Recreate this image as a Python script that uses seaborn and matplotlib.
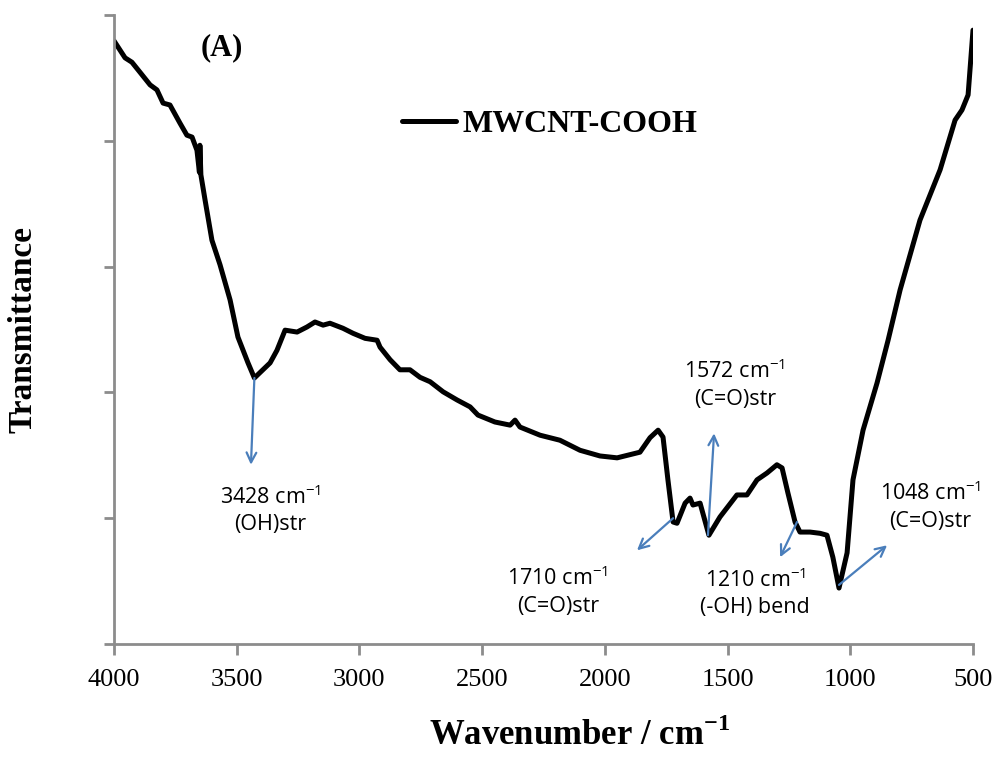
import numpy as np
import pandas as pd
import matplotlib
matplotlib.use("Agg")
import matplotlib.pyplot as plt
import seaborn as sns

# FTIR spectrum of MWCNT-COOH
wavenumber = [4000, 3955, 3927, 3894, 3853, 3825, 3800, 3772, 3731, 3703,
              3682, 3662, 3652, 3650, 3646, 3629, 3601, 3568, 3527, 3495,
              3454, 3428, 3364, 3336, 3303, 3254, 3214, 3181, 3148, 3120,
              3067, 3026, 2977, 2928, 2916, 2875, 2835, 2794, 2753, 2712,
              2659, 2602, 2549, 2517, 2448, 2386, 2366, 2346, 2264, 2183,
              2101, 2020, 1950, 1857, 1816, 1783, 1763, 1743, 1722, 1706,
              1673, 1653, 1641, 1612, 1576, 1531, 1462, 1421, 1380, 1339,
              1299, 1278, 1254, 1225, 1205, 1164, 1123, 1095, 1071, 1046,
              1013, 989, 948, 891, 846, 797, 716, 634, 573, 545, 520, 500]
transmittance = [95.9, 93.2, 92.5, 90.9, 88.9, 88.1, 86.0, 85.7, 82.8, 80.9,
                 80.6, 78.5, 75.0, 79.3, 74.6, 70.6, 64.2, 60.3, 54.7, 48.8,
                 44.7, 42.3, 44.7, 46.7, 49.9, 49.6, 50.4, 51.2, 50.7, 51.0,
                 50.2, 49.4, 48.6, 48.3, 47.2, 45.2, 43.6, 43.6, 42.4, 41.7,
                 40.1, 38.8, 37.7, 36.4, 35.3, 34.8, 35.6, 34.5, 33.2, 32.4,
                 30.8, 29.9, 29.6, 30.5, 32.8, 34.0, 32.9, 26.1, 19.4, 19.2,
                 22.4, 23.2, 22.1, 22.4, 17.3, 20.2, 23.7, 23.7, 26.1, 27.2,
                 28.5, 28.0, 24.0, 19.4, 17.8, 17.8, 17.6, 17.3, 13.8, 8.9,
                 14.5, 26.1, 34.0, 41.5, 48.3, 56.3, 67.4, 75.4, 83.3, 84.9,
                 87.3, 97.6]

# peak annotations: (arrow tail x, y), (arrow head x, y), (label x, y), text
peak_tail = [(3428, 42.3), (1722, 20.0), (1580, 17.3), (1217, 19.4), (1046, 9.4)]
peak_head = [(3442, 28.5), (1869, 14.9), (1555, 33.5), (1286, 13.8), (850, 15.7)]
peak_text_pos = [(3364, 21.3), (2191, 8.3), (1470, 41.2), (1388, 8.1), (675, 21.8)]
peak_text = ["3428 cm$^{\\mathrm{-1}}$\n(OH)str",
             "1710 cm$^{\\mathrm{-1}}$\n(C=O)str",
             "1572 cm$^{\\mathrm{-1}}$\n(C=O)str",
             "1210 cm$^{\\mathrm{-1}}$\n(-OH) bend",
             "1048 cm$^{\\mathrm{-1}}$\n(C=O)str"]

df = pd.DataFrame({"Wavenumber": wavenumber, "Transmittance": transmittance})

sns.set_style("ticks")
plt.rcParams["font.family"] = ["Liberation Serif", "DejaVu Serif"]
plt.rcParams["text.color"] = "black"
plt.rcParams["axes.labelcolor"] = "black"
plt.rcParams["xtick.labelcolor"] = "black"
plt.rcParams["mathtext.fontset"] = "custom"
plt.rcParams["mathtext.rm"] = "Open Sans"
plt.rcParams["mathtext.bf"] = "Liberation Serif:bold"

fig = plt.figure(figsize=(10, 7.6), dpi=100)
ax = fig.add_axes([0.114, 0.1526, 0.859, 0.8276])

sns.lineplot(data=df, x="Wavenumber", y="Transmittance", sort=False,
             color="black", linewidth=3.6, label="MWCNT-COOH", ax=ax)

ax.set_xlim(4000, 500)
ax.set_ylim(0, 100)
ax.set_xticks([4000, 3500, 3000, 2500, 2000, 1500, 1000, 500])
ax.set_yticks([0, 20, 40, 60, 80, 100])
ax.set_yticklabels([])
ax.tick_params(axis="x", labelsize=19, length=8, width=2, color="#8c8c8c", pad=10)
ax.tick_params(axis="y", length=7, width=2, color="#8c8c8c")
for side in ["top", "right"]:
    ax.spines[side].set_visible(False)
for side in ["left", "bottom"]:
    ax.spines[side].set_color("#8c8c8c")
    ax.spines[side].set_linewidth(2)

ax.set_xlabel("Wavenumber / cm$^{\\mathbf{-1}}$", fontsize=25, fontweight="bold")
ax.xaxis.set_label_coords(0.542, -0.118)
ax.set_ylabel("Transmittance", fontsize=24, fontweight="bold", labelpad=44)

leg = ax.legend(loc="center left", bbox_to_anchor=(0.335, 0.826), frameon=False,
                borderaxespad=0, borderpad=0, handlelength=1.7, handletextpad=0.2,
                prop={"weight": "bold", "size": 23})

ax.text(3560, 94.8, "(A)", fontsize=22, fontweight="bold", ha="center", va="center")

for tail, head, pos, txt in zip(peak_tail, peak_head, peak_text_pos, peak_text):
    ax.annotate("", xy=head, xytext=tail,
                arrowprops=dict(arrowstyle="->,head_length=0.7,head_width=0.35",
                                color="#4a7ebb", lw=1.6, shrinkA=0, shrinkB=0))
    ax.text(pos[0], pos[1], txt, fontsize=15.5, ha="center", va="center",
            family=["Open Sans", "DejaVu Sans"], linespacing=1.35)

plt.savefig("out.png", dpi=100)
